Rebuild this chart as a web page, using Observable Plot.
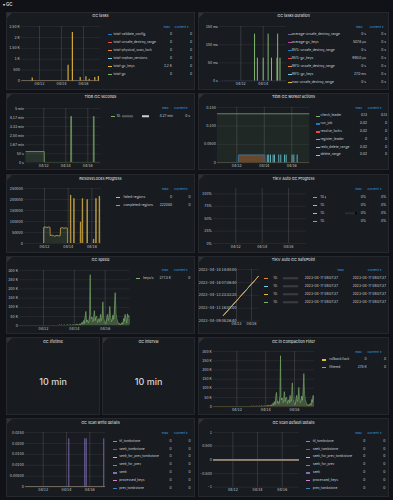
<!DOCTYPE html>
<html><head><meta charset="utf-8">
<script src="https://cdn.jsdelivr.net/npm/d3@7"></script>
<script src="https://cdn.jsdelivr.net/npm/@observablehq/plot@0.6"></script>
<style>
html,body{margin:0;padding:0;background:#111217;}
#root{position:relative;width:393px;height:500px;overflow:hidden;background:#111217;font-family:Inter,Roboto,"Noto Sans",sans-serif;color:#ccccdc;}
.panel{position:absolute;background:#181b1f;border:0.5px solid #25282d;box-sizing:border-box;}
.corner{position:absolute;left:0;top:0;width:0;height:0;border-top:5px solid #2e3137;border-right:5px solid transparent;}
.t{position:absolute;white-space:nowrap;line-height:1;}
.sw{position:absolute;width:4px;height:1.3px;}
.blk{display:inline-block;height:2.6px;vertical-align:middle;}
</style></head>
<body><div id="root"></div>
<script>
// ---------- colours (Grafana classic palette) ----------
const green="#7EB26D", yellow="#EAB839", cyan="#6ED0E0", orange="#EF843C", red="#E24D42",
      blue="#1F78C1", magenta="#BA43A9", purple="#705DA0";

// ---------- data (x = April 2023 fractional day, dashboard time; 12.0 = 04/12 00:00) ----------
const spanDay = [10.38, 17.38];          // dashboard range 04/10 09:07 -> 04/17 09:07
const zeros2 = [0, 0];

// GC tasks
const gcTasksNames = ["total-validate_config","total-unsafe_destroy_range","total-physical_scan_lock","total-orphan_versions","total-gc_keys","total-gc"];
const gcTasksColors = [blue, red, orange, cyan, yellow, green];
const gcTasksMax = ["0","0","0","0","2.2 K","0"];
const gcTasksCur = ["0","0","0","0","0","0"];
const gcKeysDay = [11.34, 14.60, 14.99, 15.70, 16.22, 16.52, 17.03, 17.35];
const gcKeysTasks = [140, 730, 2225, 170, 200, 80, 170, 210];
const gcTasksTicks = [0, 500, 1000, 1500, 2000, 2500];
const gcTasksTickLabels = ["0","500","1 K","1.50 K","2 K","2.50 K"];

// GC tasks duration
const durNames = ["average-unsafe_destroy_range","average-gc_keys","95%-unsafe_destroy_range","95%-gc_keys","99%-unsafe_destroy_range","99%-gc_keys","max-unsafe_destroy_range"];
const durColors = [purple, magenta, blue, red, orange, cyan, yellow];
const durMax = ["0 s","507.6 µs","0 s","990.0 µs","0 s","27.0 ms","0 s"];
const durCur = ["0 s","0 s","0 s","0 s","0 s","0 s","0 s"];
const durDay = [13.23, 13.48, 14.00, 14.44, 14.74, 15.23, 15.29, 15.50];
const durMaxGcKeysMs = [129, 63, 63, 129, 63, 63, 129, 63];
const durTicks = [0, 50, 100, 150];
const durTickLabels = ["0 s","50 ms","100 ms","150 ms"];

// TiDB GC seconds
const tidbNames = ["10."];
const tidbColors = [green];
const tidbMax = ["4.27 min"];
const tidbCur = ["0 s"];
const tidbDay = [10.38, 12.04, 12.06, 14.45, 14.46, 14.52, 14.53, 16.50, 16.51, 16.57, 16.58, 17.38];
const tidbSec = [62, 62, 2, 2, 256, 256, 2, 2, 256, 256, 2, 2];
const tidbTicks = [0, 50, 100, 150, 200, 250, 300];
const tidbTickLabels = ["0 s","50 s","1.67 min","2.50 min","3.33 min","4.17 min","5 min"];

// TiDB GC worker actions
const wkNames = ["check_leader","run_job","resolve_locks","register_leader","redo_delete_range","delete_range"];
const wkColors = [green, blue, red, orange, cyan, yellow];
const wkMax = ["0.13","0.02","0.02","0","0.02","0.02"];
const wkCur = ["0.13","0","0","0","0","0"];
const checkLeader = [0.133, 0.133];
const runJobDay = [10.38, 12.11, 12.12, 14.05, 14.06, 17.38];
const runJob = [0, 0, 0.021, 0.021, 0, 0];
const redoDay = [14.22, 14.32, 14.45, 14.64, 14.74, 15.05, 15.20, 15.47, 15.59, 16.02, 16.15, 16.39];
const redoVal = [0.021, 0.021, 0.021, 0.021, 0.021, 0.021, 0.021, 0.021, 0.021, 0.021, 0.021, 0.021];
const wkTicks = [0, 0.05, 0.1, 0.15];
const wkTickLabels = ["0","0.0500","0.100","0.150"];

// ResolveLocks Progress
const rlNames = ["failed-regions","completed-regions"];
const rlColors = [yellow, green];
const rlMax = ["0","222080"];
const rlCur = ["0","0"];
const rlDay = [10.38, 11.92, 11.93, 12.05, 12.2, 12.35, 12.47, 12.48, 12.65, 12.85, 13.05, 13.2, 13.33, 13.35, 13.5, 13.65, 13.8, 13.93, 13.94,
  14.18, 14.19, 14.22, 14.23, 14.46, 14.47, 14.5, 14.51, 15.02, 15.03, 15.06, 15.07, 15.18, 15.19, 15.22, 15.23,
  15.58, 15.59, 15.62, 15.63, 16.12, 16.13, 16.16, 16.17, 16.32, 16.33, 16.36, 16.37, 16.61, 16.62, 16.65, 16.66, 17.38];
const rlCompleted = [0, 0, 73000, 76000, 72000, 75000, 73000, 36000, 38000, 33000, 37000, 34000, 36000, 70000, 72000, 69000, 71000, 70000, 0,
  0, 220000, 220000, 0, 0, 205000, 205000, 0, 0, 98000, 98000, 0, 0, 205000, 205000, 0,
  0, 200000, 200000, 0, 0, 20000, 20000, 0, 0, 205000, 205000, 0, 0, 215000, 215000, 0, 0];
const rlTicks = [0, 50000, 100000, 150000, 200000, 250000];
const rlTickLabels = ["0","50000","100000","150000","200000","250000"];

// TiKV Auto GC Progress
const agNames = ["10.","10.","10.","10."];
const agColors = [orange, cyan, yellow, green];
const agMax = ["0%","0%","0%","0%"];
const agCur = ["0%","0%","0%","0%"];
const agTicks = [0, 0.25, 0.5, 0.75, 1];
const agTickLabels = ["0%","25%","50%","75%","100%"];

// GC speed  (keys/s, thousands)
const speedDay = [10.38, 12.95, 13.05, 13.10, 13.20, 13.25, 13.40, 13.45, 13.60, 13.65, 13.75, 13.80, 13.95, 14.00, 14.20, 14.25, 14.35,
  14.40, 14.45, 14.50, 14.55, 14.60, 14.65, 14.70, 14.75, 14.80, 14.85, 14.90, 14.95, 15.00, 15.03, 15.06, 15.10, 15.15, 15.20,
  15.25, 15.30, 15.35, 15.40, 15.45, 15.50, 15.55, 15.60, 15.65, 15.70, 15.75, 15.80, 15.85, 15.90, 15.95, 16.00, 16.05, 16.10,
  16.15, 16.20, 16.25, 16.30, 16.35, 16.40, 16.45, 16.50, 16.55, 16.60, 16.65, 16.70, 16.75, 16.80, 16.85, 16.90, 16.95, 17.00,
  17.05, 17.10, 17.15, 17.20, 17.25, 17.30, 17.35, 17.40, 17.45, 17.50, 17.55, 17.60];
const speedK = [0, 0.5, 4, 0.5, 5, 0.5, 4, 0.5, 5, 0.5, 6, 1, 5, 1, 8, 2, 10,
  3, 12, 18, 8, 28, 12, 45, 78, 20, 32, 15, 22, 60, 277, 55, 38, 48, 22,
  30, 82, 28, 45, 52, 18, 30, 38, 20, 62, 28, 40, 130, 42, 25, 18, 12, 35,
  62, 28, 40, 105, 45, 22, 30, 58, 35, 75, 180, 68, 40, 25, 15, 8, 12, 5,
  10, 18, 8, 40, 25, 62, 30, 15, 65, 48, 55, 10];
const speedNames = ["keys/s"], speedColors = [green], speedMax = ["277.3 K"], speedCur = ["0"];
const kTicks = [0, 50, 100, 150, 200, 250, 300];
const kTickLabels = ["0","50 K","100 K","150 K","200 K","250 K","300 K"];

// TiKV Auto GC SafePoint (epoch seconds)
const spNames = ["10.","10.","10.","10."];
const spColors = [orange, cyan, yellow, green];
const spMax = ["2023-04-17 09:07:37","2023-04-17 09:07:37","2023-04-17 09:07:37","2023-04-17 09:07:37"];
const spCur = spMax;
const spDay = [10.38, 17.38];
const spValue = [1681088857, 1681693657];
const spTicks = [1681000000, 1681200000, 1681400000, 1681600000, 1681800000];
const spTickLabels = ["2023-04-09 08:26:40","2023-04-11 16:00:00","2023-04-13 23:33:20","2023-04-16 07:06:40","2023-04-18 14:40:00"];

// stat panels
const statTitles = ["GC lifetime", "GC interval"];
const statValues = ["10 min", "10 min"];

// GC in Compaction Filter
const cfNames = ["rollback/lock","filtered"], cfColors = [yellow, green], cfMax = ["0","278 K"], cfCur = ["0","0"];

// GC scan details
const scanNames = ["ttl_tombstone","seek_tombstone","seek_for_prev_tombstone","seek_for_prev","seek","processed_keys","prev_tombstone"];
const scanColors = ["#E0752D", "#1F78C1", yellow, "#629E51", "#806EB7", "#D683CE", "#447EBC"];
const scanMax = ["0","0","0","0","0","0","0"];
const scanCur = ["0","0","0","0","0","0","0"];
const seekDay = [14.20, 15.57, 15.69, 17.20];
const seekVal = [0.0221, 0.0221, 0.0221, 0.0221];
const swTicks = [0, 0.005, 0.01, 0.015, 0.02, 0.025];
const swTickLabels = ["0","0.00500","0.0100","0.0150","0.0200","0.0250"];
const sdTicks = [-1, -0.5, 0, 0.5, 1];
const sdTickLabels = ["-1","-0.500","0","0.500","1"];

// ---------- helpers ----------
const root = document.getElementById("root");
const FONT = "Inter, Roboto, 'Noto Sans', sans-serif";
const D = d => new Date(Date.UTC(2023, 2, 31) + d * 864e5);
const rows = (days, vals) => days.map((d, i) => ({t: D(d), v: vals[i]}));

function txt(s, x, y, o = {}) {
  const e = document.createElement("div");
  e.className = "t";
  if (o.html) e.innerHTML = s; else e.textContent = s;
  const tx = o.align === "right" ? "-100%" : o.align === "center" ? "-50%" : "0";
  e.style.cssText += `left:${x}px;top:${y}px;font-size:${o.size || 3.3}px;color:${o.color || "#c7d0d9"};font-weight:${o.weight || 400};transform:translate(${tx},-50%);`;
  root.appendChild(e);
  return e;
}
function panel(x, y, w, h, title, ty) {
  const p = document.createElement("div");
  p.className = "panel";
  p.style.cssText += `left:${x}px;top:${y}px;width:${w}px;height:${h}px;`;
  const c = document.createElement("div"); c.className = "corner"; p.appendChild(c);
  root.appendChild(p);
  txt(title, x + w / 2, ty, {align: "center", size: 3.8, weight: 500, color: "#d8d9da"});
}
function legend(L) {
  txt("max", L.hmx, L.hy, {align: "right", color: "#33a2e5"});
  txt("current ▾", L.hcx, L.hy, {align: "right", color: "#33a2e5"});
  L.names.forEach((n, i) => {
    const y = L.y0 + i * L.dy;
    const s = document.createElement("div");
    s.className = "sw";
    s.style.cssText += `left:${L.sx}px;top:${y - 0.65}px;background:${L.colors[i]};`;
    root.appendChild(s);
    const extra = L.redact ? L.redact[i] || "" : "";
    txt(n + extra, L.lx, y, {html: true});
    txt(L.max[i], L.mx, y, {align: "right"});
    txt(L.cur[i], L.cx, y, {align: "right"});
  });
}
function chart(o) {
  const mL = o.mL ?? 24, mR = 1, mT = 1, mB = 8;
  const ppd = (o.pb - o.pa) / (o.db - o.da);
  const xDomain = [D(o.da - (o.pa - o.x0) / ppd), D(o.db + (o.x1 - o.pb) / ppd)];
  const xt = o.xTickDays.map(D);
  const yMap = new Map(o.yTicks.map((t, i) => [t, o.yLabels[i]]));
  const p = Plot.plot({
    width: o.x1 - o.x0 + mL + mR, height: o.y1 - o.y0 + mT + mB,
    marginLeft: mL, marginRight: mR, marginTop: mT, marginBottom: mB,
    style: {background: "transparent", color: "#c7d0d9", fontSize: "3.4px", fontFamily: FONT, overflow: "visible"},
    x: {type: "utc", domain: xDomain, ticks: xt, tickFormat: d3.utcFormat("%m/%d"), tickSize: 0, tickPadding: 1.6, label: null},
    y: {domain: o.yDomain, ticks: o.yTicks, tickFormat: d => yMap.get(d) ?? "", tickSize: 0, tickPadding: o.yPad ?? 1.6, label: null},
    marks: [
      Plot.ruleX(xt, {stroke: "#a0a0a8", strokeOpacity: 0.42, strokeWidth: 0.5}),
      Plot.ruleY(o.yTicks, {stroke: "#a0a0a8", strokeOpacity: 0.2, strokeWidth: 0.5}),
      ...o.marks
    ]
  });
  p.style.position = "absolute";
  p.style.left = (o.x0 - mL) + "px";
  p.style.top = (o.y0 - mT) + "px";
  root.appendChild(p);
}
const flat = (color, w = 0.7) => Plot.lineY(rows(spanDay, zeros2), {x: "t", y: "v", stroke: color, strokeWidth: w, clip: true});

// ---------- header ----------
txt("▾ GC", 3, 5, {size: 4.3, weight: 600, color: "#d8d9da"});

// ---------- row 1 ----------
panel(6, 12, 189, 78, "GC tasks", 15.8);
chart({x0: 21, x1: 100, y0: 25.7, y1: 80.3, pa: 39, da: 12, pb: 83, db: 16, xTickDays: [12, 14, 16],
  yDomain: [0, 2500], yTicks: gcTasksTicks, yLabels: gcTasksTickLabels,
  marks: [flat(green), flat(yellow), flat(cyan), flat(orange), flat(red), flat(blue),
    Plot.ruleX(rows(gcKeysDay, gcKeysTasks), {x: "t", y1: 0, y2: "v", stroke: yellow, strokeWidth: 1.2, strokeOpacity: 0.9})]});
legend({names: gcTasksNames, colors: gcTasksColors, max: gcTasksMax, cur: gcTasksCur,
  hy: 28.3, y0: 34.5, dy: 8, sx: 107.5, lx: 113.5, mx: 172, cx: 192, hmx: 170, hcx: 189});

panel(198, 12, 191, 78, "GC tasks duration", 15.8);
chart({x0: 219, x1: 286, y0: 25.7, y1: 80.3, pa: 240.3, da: 12, pb: 262.7, db: 14, xTickDays: [12, 14],
  yDomain: [0, 150], yTicks: durTicks, yLabels: durTickLabels,
  marks: [Plot.ruleX(rows(durDay, durMaxGcKeysMs), {x: "t", y1: 0, y2: "v", stroke: "#8fca7a", strokeWidth: 0.9}),
    flat(purple, 0.8)]});
legend({names: durNames, colors: durColors, max: durMax, cur: durCur,
  hy: 28.3, y0: 34.7, dy: 8, sx: 288, lx: 291.8, mx: 366, cx: 386, hmx: 362.5, hcx: 384});

// ---------- row 2 ----------
panel(6, 93, 189, 77, "TiDB GC seconds", 97.3);
chart({x0: 25, x1: 100, y0: 107.7, y1: 162, pa: 43.3, da: 12, pb: 87.3, db: 16, xTickDays: [12, 14, 16],
  yDomain: [0, 300], yTicks: tidbTicks, yLabels: tidbTickLabels,
  marks: [Plot.areaY(rows(tidbDay, tidbSec), {x: "t", y: "v", fill: green, fillOpacity: 0.16, clip: true}),
    Plot.lineY(rows(tidbDay, tidbSec), {x: "t", y: "v", stroke: green, strokeWidth: 0.7, clip: true})]});
legend({names: tidbNames, colors: tidbColors, max: tidbMax, cur: tidbCur,
  redact: ['<span class="blk" style="width:11px;background:#55585d;margin-left:1px"></span><span class="blk" style="width:7px;background:#d0d0d0;margin-left:9px"></span>'],
  hy: 109.3, y0: 116.7, dy: 8, sx: 110.5, lx: 116.5, mx: 173, cx: 190, hmx: 168.5, hcx: 188.5});

panel(198, 93, 191, 77, "TiDB GC worker actions", 97.3);
chart({x0: 216.7, x1: 309, y0: 107, y1: 162.3, pa: 236, da: 12, pb: 291, db: 16, xTickDays: [12, 14, 16],
  yDomain: [0, 0.15], yTicks: wkTicks, yLabels: wkTickLabels,
  marks: [Plot.areaY(rows(spanDay, checkLeader), {x: "t", y: "v", fill: green, fillOpacity: 0.09, clip: true}),
    Plot.lineY(rows(spanDay, checkLeader), {x: "t", y: "v", stroke: green, strokeWidth: 0.7, clip: true}),
    Plot.areaY(rows(runJobDay, runJob), {x: "t", y: "v", fill: orange, fillOpacity: 0.35, clip: true}),
    Plot.ruleX(rows(redoDay, redoVal), {x: "t", y1: 0, y2: "v", stroke: cyan, strokeWidth: 0.8}),
    flat(yellow), flat(orange),
    Plot.lineY(rows(runJobDay, runJob), {x: "t", y: "v", stroke: blue, strokeWidth: 0.8, clip: true})]});
legend({names: wkNames, colors: wkColors, max: wkMax, cur: wkCur,
  hy: 109.3, y0: 116.3, dy: 7.8, sx: 315.5, lx: 320.5, mx: 367, cx: 387, hmx: 362, hcx: 382});

// ---------- row 3 ----------
panel(6, 174, 189, 79, "ResolveLocks Progress", 179);
chart({x0: 24.3, x1: 101.7, y0: 188.3, y1: 243.3, pa: 44.3, da: 12, pb: 91.7, db: 16, xTickDays: [12, 14, 16],
  yDomain: [0, 250000], yTicks: rlTicks, yLabels: rlTickLabels,
  marks: [Plot.areaY(rows(rlDay, rlCompleted), {x: "t", y: "v", fill: green, fillOpacity: 0.15, clip: true}),
    Plot.lineY(rows(rlDay, rlCompleted), {x: "t", y: "v", stroke: "#d6ad45", strokeWidth: 0.75, clip: true})]});
legend({names: rlNames, colors: rlColors, max: rlMax, cur: rlCur,
  hy: 190, y0: 197.7, dy: 8, sx: 116.3, lx: 123.5, mx: 172, cx: 190.5, hmx: 168.5, hcx: 188.5});

panel(198, 174, 191, 79, "TiKV Auto GC Progress", 179);
chart({x0: 212.7, x1: 306, y0: 188.3, y1: 243.3, pa: 235, da: 12, pb: 287.7, db: 16, xTickDays: [12, 14, 16],
  yDomain: [0, 1.109], yTicks: agTicks, yLabels: agTickLabels,
  marks: [flat(green), flat(yellow), flat(cyan), flat(orange, 0.8)]});
legend({names: agNames, colors: agColors, max: agMax, cur: agCur,
  redact: ['<span class="blk" style="width:1px;background:#777;margin-left:0.5px"></span>', '',
           '<span class="blk" style="width:10px;background:#2a2c30;margin-left:20px"></span><span class="blk" style="width:2px;background:#050505"></span>', ''],
  hy: 190, y0: 197.7, dy: 8, sx: 312.7, lx: 320.3, mx: 366, cx: 386.3, hmx: 361.7, hcx: 381.7});

// ---------- row 4 ----------
panel(6, 256, 189, 78, "GC speed", 260);
chart({x0: 19.3, x1: 130, y0: 269.7, y1: 325, pa: 43.3, da: 12, pb: 105, db: 16, xTickDays: [12, 14, 16],
  yDomain: [0, 300], yTicks: kTicks, yLabels: kTickLabels,
  marks: [Plot.areaY(rows(speedDay, speedK), {x: "t", y: "v", fill: green, fillOpacity: 0.4, clip: true}),
    Plot.lineY(rows(speedDay, speedK), {x: "t", y: "v", stroke: green, strokeWidth: 0.6, clip: true})]});
legend({names: speedNames, colors: speedColors, max: speedMax, cur: speedCur,
  hy: 270.7, y0: 278.5, dy: 8, sx: 136, lx: 143.3, mx: 171, cx: 190.3, hmx: 168.3, hcx: 188.3});

panel(198, 256, 191, 78, "TiKV Auto GC SafePoint", 260);
chart({x0: 221, x1: 259.3, y0: 269.3, y1: 321, mL: 24, yPad: -15, pa: 236, da: 13, pb: 251, db: 16, xTickDays: [13, 16],
  yDomain: [1681000000, 1681800000], yTicks: spTicks, yLabels: spTickLabels,
  marks: spColors.slice().reverse().map(c => Plot.lineY(rows(spDay, spValue), {x: "t", y: "v", stroke: c, strokeWidth: 0.7, clip: true}))});
legend({names: spNames, colors: spColors, max: spMax, cur: spCur,
  redact: spNames.map(() => '<span class="blk" style="width:15px;background:#3a3c40;margin-left:5px"></span>'),
  hy: 271.3, y0: 278.7, dy: 8, sx: 264.3, lx: 273.3, mx: 338, cx: 386, hmx: 344, hcx: 382});

// ---------- row 5 ----------
panel(6, 337, 94, 78, statTitles[0], 341.7);
txt(statValues[0], 53, 380.7, {align: "center", size: 9, weight: 500, color: "#d8d9da"});
panel(102, 337, 93, 78, statTitles[1], 341.7);
txt(statValues[1], 148.5, 380.7, {align: "center", size: 9, weight: 500, color: "#d8d9da"});

panel(198, 337, 191, 78, "GC in Compaction Filter", 341.7);
chart({x0: 213.3, x1: 314.3, y0: 350.7, y1: 406, pa: 236.7, da: 12, pb: 294.3, db: 16, xTickDays: [12, 14, 16],
  yDomain: [0, 300], yTicks: kTicks, yLabels: kTickLabels,
  marks: [Plot.areaY(rows(speedDay, speedK), {x: "t", y: "v", fill: green, fillOpacity: 0.4, clip: true}),
    Plot.lineY(rows(speedDay, speedK), {x: "t", y: "v", stroke: green, strokeWidth: 0.6, clip: true}),
    flat("#d9a43c", 0.8)]});
legend({names: cfNames, colors: cfColors, max: cfMax, cur: cfCur,
  hy: 352.7, y0: 360, dy: 7.7, sx: 322, lx: 329.3, mx: 366.7, cx: 386, hmx: 361.7, hcx: 381.7});

// ---------- row 6 ----------
panel(6, 418, 189, 79, "GC scan write details", 422.7);
chart({x0: 25, x1: 105, y0: 432.3, y1: 487, pa: 42.7, da: 12, pb: 89.3, db: 16, xTickDays: [12, 14, 16],
  yDomain: [0, 0.025], yTicks: swTicks, yLabels: swTickLabels,
  marks: [Plot.ruleX(rows(seekDay, seekVal), {x: "t", y1: 0, y2: "v", stroke: "#806EB7", strokeWidth: 0.9}),
    ...scanColors.slice().reverse().map(c => flat(c, 0.7))]});
legend({names: scanNames, colors: scanColors, max: scanMax, cur: scanCur,
  hy: 434, y0: 441.7, dy: 7.83, sx: 112.7, lx: 119.3, mx: 171.7, cx: 190.7, hmx: 168.3, hcx: 188.3});

panel(198, 418, 191, 79, "GC scan default details", 422.7);
chart({x0: 213.3, x1: 299.3, y0: 432.3, y1: 487, pa: 232.7, da: 12, pb: 282, db: 16, xTickDays: [12, 14, 16],
  yDomain: [-1, 1], yTicks: sdTicks, yLabels: sdTickLabels,
  marks: scanColors.slice().reverse().map(c => flat(c, 0.8))});
legend({names: scanNames, colors: scanColors, max: scanMax, cur: scanCur,
  hy: 434, y0: 441.7, dy: 7.83, sx: 306, lx: 312.7, mx: 365.3, cx: 385.3, hmx: 361.7, hcx: 381.7});
</script></body></html>
